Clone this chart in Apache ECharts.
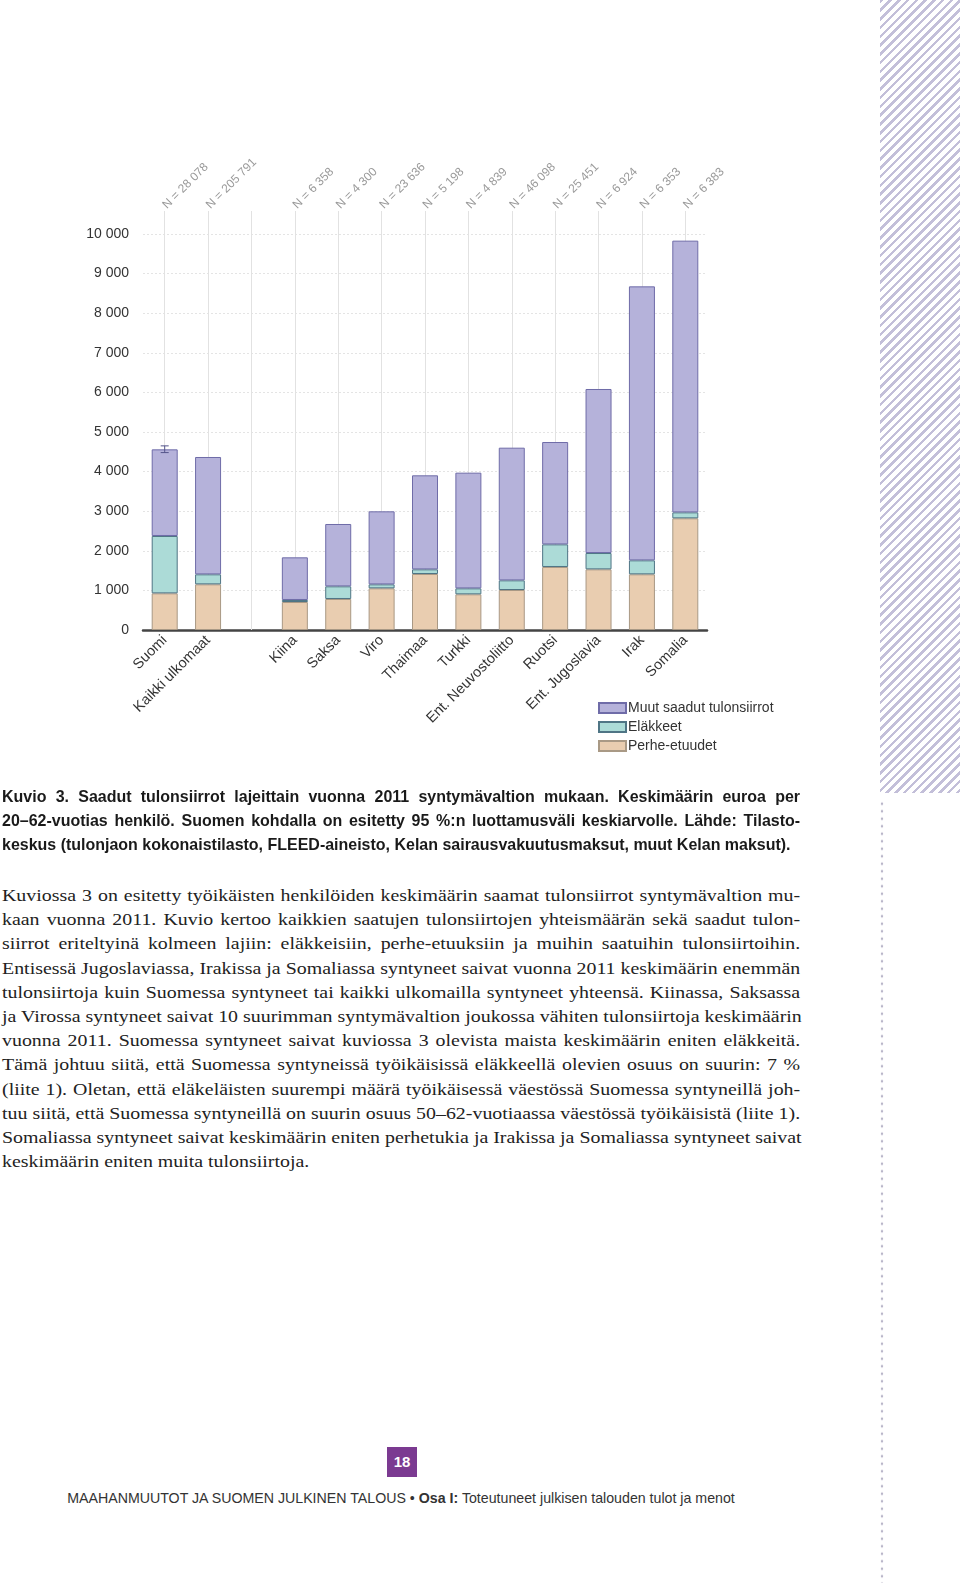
<!DOCTYPE html>
<html>
<head>
<meta charset="utf-8">
<script src="https://cdn.jsdelivr.net/npm/echarts@6/dist/echarts.min.js"></script>
<style>
  html, body { margin: 0; padding: 0; background: #fff; }
  body { width: 960px; height: 1583px; position: relative; overflow: hidden; }
  #chart { position: absolute; left: 0; top: 0; width: 960px; height: 790px; }
  #hatch { position: absolute; left: 880px; top: 0; width: 80px; height: 793px;
    background: repeating-linear-gradient(135deg, #c3bfd9 0 2.5px, #ffffff 2.5px 6.2px); }
  #dots { position: absolute; left: 880px; top: 800px; width: 4px; height: 783px;
    background-image: radial-gradient(circle, #b9b6c9 1.2px, transparent 1.6px);
    background-size: 4px 7.5px; }
  .caption { position: absolute; left: 2px; top: 785px; width: 849px;
    transform: scaleX(0.94); transform-origin: 0 0;
    font-family: "Liberation Sans", sans-serif;
    font-weight: bold; font-size: 17px; line-height: 24.2px; color: #1a1a1a; }
  .body { position: absolute; left: 2px; top: 883px; width: 702px;
    transform: scaleX(1.137); transform-origin: 0 0;
    font-family: "Liberation Serif", serif; font-size: 17.5px; line-height: 24.2px; color: #222; }
  .ln { white-space: nowrap; text-align: justify; text-align-last: justify; }
  .ln.last { text-align-last: left; }
  #pg { position: absolute; left: 387px; top: 1447px; width: 30px; height: 30px; background: #7b3a91;
    color: #fff; font-family: "Liberation Sans", sans-serif; font-weight: bold;
    font-size: 15px; line-height: 30px; text-align: center; }
  #foot { position: absolute; left: 0; width: 802px; top: 1489px; text-align: center;
    font-family: "Liberation Sans", sans-serif; font-size: 14.2px; color: #333; line-height: 18px; }
</style>
</head>
<body>
<div id="hatch"></div>
<div id="dots"></div>
<div id="chart"></div>
<div class="caption">
  <div class="ln">Kuvio 3. Saadut tulonsiirrot lajeittain vuonna 2011 syntymävaltion mukaan. Keskimäärin euroa per</div>
  <div class="ln">20–62-vuotias henkilö. Suomen kohdalla on esitetty 95 %:n luottamusväli keskiarvolle. Lähde: Tilasto-</div>
  <div class="ln last">keskus (tulonjaon kokonaistilasto, FLEED-aineisto, Kelan sairausvakuutusmaksut, muut Kelan maksut).</div>
</div>
<div class="body">
  <div class="ln">Kuviossa 3 on esitetty työikäisten henkilöiden keskimäärin saamat tulonsiirrot syntymävaltion mu-</div>
  <div class="ln">kaan vuonna 2011. Kuvio kertoo kaikkien saatujen tulonsiirtojen yhteismäärän sekä saadut tulon-</div>
  <div class="ln">siirrot eriteltyinä kolmeen lajiin: eläkkeisiin, perhe-etuuksiin ja muihin saatuihin tulonsiirtoihin.</div>
  <div class="ln">Entisessä Jugoslaviassa, Irakissa ja Somaliassa syntyneet saivat vuonna 2011 keskimäärin enemmän</div>
  <div class="ln">tulonsiirtoja kuin Suomessa syntyneet tai kaikki ulkomailla syntyneet yhteensä. Kiinassa, Saksassa</div>
  <div class="ln">ja Virossa syntyneet saivat 10 suurimman syntymävaltion joukossa vähiten tulonsiirtoja keskimäärin</div>
  <div class="ln">vuonna 2011. Suomessa syntyneet saivat kuviossa 3 olevista maista keskimäärin eniten eläkkeitä.</div>
  <div class="ln">Tämä johtuu siitä, että Suomessa syntyneissä työikäisissä eläkkeellä olevien osuus on suurin: 7 %</div>
  <div class="ln">(liite 1). Oletan, että eläkeläisten suurempi määrä työikäisessä väestössä Suomessa syntyneillä joh-</div>
  <div class="ln">tuu siitä, että Suomessa syntyneillä on suurin osuus 50–62-vuotiaassa väestössä työikäisistä (liite 1).</div>
  <div class="ln">Somaliassa syntyneet saivat keskimäärin eniten perhetukia ja Irakissa ja Somaliassa syntyneet saivat</div>
  <div class="ln last">keskimäärin eniten muita tulonsiirtoja.</div>
</div>
<div id="pg">18</div>
<div id="foot">MAAHANMUUTOT JA SUOMEN JULKINEN TALOUS • <b>Osa I:</b> Toteutuneet julkisen talouden tulot ja menot</div>
<script>
const categories = ['Suomi', 'Kaikki ulkomaat', '', 'Kiina', 'Saksa', 'Viro', 'Thaimaa', 'Turkki',
  'Ent. Neuvostoliitto', 'Ruotsi', 'Ent. Jugoslavia', 'Irak', 'Somalia'];
const nLabels = ['N = 28 078', 'N = 205 791', '', 'N = 6 358', 'N = 4 300', 'N = 23 636', 'N = 5 198',
  'N = 4 839', 'N = 46 098', 'N = 25 451', 'N = 6 924', 'N = 6 353', 'N = 6 383'];
const perheEtuudet = [926, 1153, null, 707, 783, 1052, 1414, 901, 1010, 1591, 1532, 1406, 2820];
const elakkeet = [1448, 253, null, 51, 320, 101, 118, 151, 244, 572, 412, 353, 151];
const muut = [2188, 2963, null, 1077, 1574, 1844, 2374, 2921, 3350, 2584, 4142, 6919, 6861];
const errorBars = [[0, 4480, 4650]];
const yTicks = { min: 0, max: 10000, interval: 1000 };

const chart = echarts.init(document.getElementById('chart'), null, { renderer: 'canvas' });
const font = 'Liberation Sans';
chart.setOption({
  animation: false,
  grid: { left: 143, right: 253, top: 234, bottom: 160, containLabel: false },
  legend: {
    orient: 'vertical', left: 593, top: 696, itemWidth: 27, itemHeight: 10, itemGap: 5,
    icon: 'rect',
    data: ['Muut saadut tulonsiirrot', 'Eläkkeet', 'Perhe-etuudet'],
    textStyle: { fontFamily: font, fontSize: 14, color: '#333', padding: [0, 0, 0, -3] }
  },
  xAxis: [
    {
      type: 'category', data: categories, position: 'bottom',
      axisLine: { show: true, lineStyle: { color: '#444', width: 2.5 } },
      axisTick: { show: false },
      axisLabel: { interval: 0, rotate: 45, margin: 8, fontFamily: font, fontSize: 14.5, color: '#333' },
      splitLine: { show: false }
    },
    {
      type: 'category', data: nLabels, position: 'top', offset: 23,
      axisLine: { show: false },
      axisTick: { show: true, inside: true, length: 419, alignWithLabel: true, interval: 0,
        lineStyle: { color: '#e2e2e2', width: 1 } },
      axisLabel: { interval: 0, rotate: -45, margin: 4, fontFamily: font, fontSize: 12, color: '#9a9a9a' },
      splitLine: { show: false }
    }
  ],
  yAxis: {
    type: 'value', min: yTicks.min, max: yTicks.max, interval: yTicks.interval,
    axisLine: { show: false }, axisTick: { show: false },
    axisLabel: { margin: 14, fontFamily: font, fontSize: 14, color: '#333',
      formatter: v => String(v).replace(/\B(?=(\d{3})+(?!\d))/g, ' ') },
    splitLine: { show: true, lineStyle: { color: '#e4e4e4', type: [2, 2], width: 1 } }
  },
  series: [
    {
      name: 'Perhe-etuudet', type: 'bar', stack: 'a', barWidth: 26, data: perheEtuudet,
      itemStyle: { color: '#e9cdb0', borderColor: '#a99985', borderWidth: 1 }
    },
    {
      name: 'Eläkkeet', type: 'bar', stack: 'a', barWidth: 26, data: elakkeet,
      itemStyle: { color: '#acdbd7', borderColor: '#4f7585', borderWidth: 1 }
    },
    {
      name: 'Muut saadut tulonsiirrot', type: 'bar', stack: 'a', barWidth: 26, data: muut,
      itemStyle: { color: '#b5b2da', borderColor: '#6f6ca8', borderWidth: 1 }
    },
    {
      name: 'err', type: 'custom', data: errorBars, z: 10,
      encode: { x: 0, y: [1, 2] },
      renderItem: function (params, api) {
        const x = api.value(0);
        const lo = api.coord([x, api.value(1)]);
        const hi = api.coord([x, api.value(2)]);
        const hw = 4;
        const st = { stroke: '#55558a', lineWidth: 1 };
        return {
          type: 'group', children: [
            { type: 'line', shape: { x1: lo[0], y1: lo[1], x2: hi[0], y2: hi[1] }, style: st },
            { type: 'line', shape: { x1: lo[0] - hw, y1: lo[1], x2: lo[0] + hw, y2: lo[1] }, style: st },
            { type: 'line', shape: { x1: hi[0] - hw, y1: hi[1], x2: hi[0] + hw, y2: hi[1] }, style: st }
          ]
        };
      }
    }
  ]
});
</script>
</body>
</html>
